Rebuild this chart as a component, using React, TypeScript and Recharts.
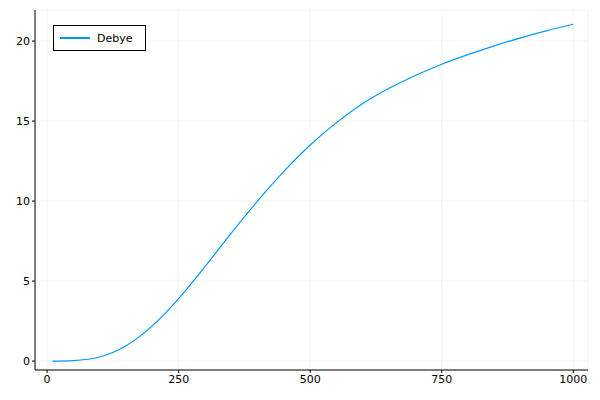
import { LineChart, Line, XAxis, YAxis, CartesianGrid, Legend } from 'recharts'

const temperature = [10, 50, 100, 150, 200, 250, 300, 350, 400, 450, 500, 550, 600, 650, 700, 750, 800, 850, 900, 950, 1000]
const heatCapacity = [0, 0.03, 0.25, 0.95, 2.2, 3.9, 5.9, 8.0, 10.0, 11.85, 13.5, 14.9, 16.1, 17.05, 17.85, 18.55, 19.15, 19.7, 20.2, 20.65, 21.05]
const xTicks = [0, 250, 500, 750, 1000]
const yTicks = [0, 5, 10, 15, 20]

const data = temperature.map((t, i) => ({ t, cv: heatCapacity[i] }))

const tickStyle = { fill: '#000', fontSize: 11, fontFamily: 'DejaVu Sans' }

function DebyeLegend() {
  return (
    <div
      style={{
        position: 'absolute',
        left: 53,
        top: 25,
        width: 93,
        height: 26,
        border: '1px solid #000',
        background: '#fff',
        display: 'flex',
        alignItems: 'center',
        fontFamily: 'DejaVu Sans',
        fontSize: 11,
        boxSizing: 'border-box',
      }}
    >
      <div style={{ width: 30, height: 1.2, background: '#009af9', marginLeft: 6, marginRight: 7 }} />
      <span>Debye</span>
    </div>
  )
}

export default function App() {
  return (
    <div style={{ position: 'absolute', left: 0, top: 0, width: 600, height: 400, background: '#fff' }}>
      <LineChart width={600} height={400} data={data} margin={{ top: 10, right: 12, bottom: 0, left: 10 }}>
        <CartesianGrid stroke="#000" strokeOpacity={0.08} strokeWidth={0.6} />
        <XAxis
          dataKey="t"
          type="number"
          domain={[-23, 1028]}
          ticks={xTicks}
          tick={tickStyle}
          stroke="#000"
          tickSize={3}
          height={30}
          allowDataOverflow
        />
        <YAxis
          type="number"
          domain={[-0.56, 21.94]}
          ticks={yTicks}
          tick={tickStyle}
          stroke="#000"
          width={25}
          tickSize={3}
          allowDataOverflow
        />
        <Legend content={() => null} />
        <Line
          dataKey="cv"
          type="monotone"
          stroke="#009af9"
          strokeWidth={1.2}
          dot={false}
          isAnimationActive={false}
        />
      </LineChart>
      <DebyeLegend />
    </div>
  )
}
